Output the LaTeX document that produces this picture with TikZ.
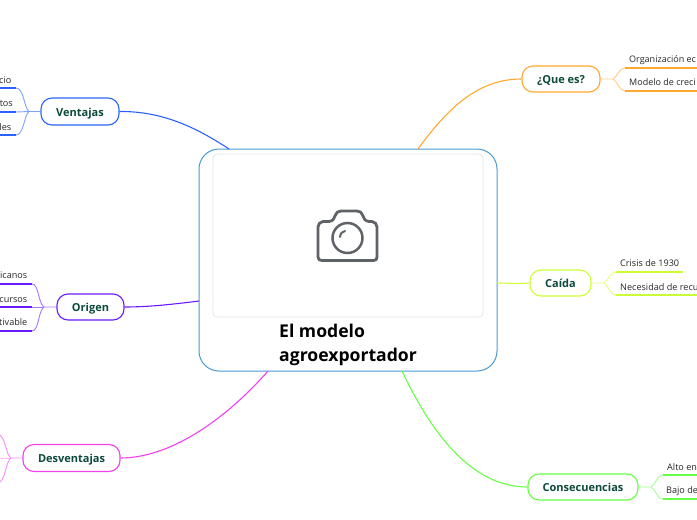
\documentclass[tikz,border=0pt]{standalone}
\usepackage{fontspec}
\setmainfont{Open Sans}
\definecolor{cvent}{HTML}{2962FF}
\definecolor{corig}{HTML}{6A1AFF}
\definecolor{cdesv}{HTML}{F040F0}
\definecolor{cque}{HTML}{FFA830}
\definecolor{ccai}{HTML}{CCFF33}
\definecolor{ccon}{HTML}{66FF44}
\definecolor{cmain}{HTML}{4A9BD4}
\definecolor{ctxt}{HTML}{0C4A3A}
\definecolor{ccam}{HTML}{5F6368}
\tikzset{
 x=1pt,y=-1pt,
 topic/.style={draw=#1,line width=1.1pt,rounded corners=11pt,fill=white,text=ctxt,font=\fontsize{11}{13}\selectfont\bfseries,inner sep=0pt,anchor=center,text height=11pt,text depth=2pt},
 link/.style={draw=#1,line width=1.1pt},
 branch/.style={draw=#1!60,line width=0.9pt},
 under/.style={draw=#1,line width=1.4pt},
 leaf/.style={font=\fontsize{9.1}{11}\selectfont,text=black!85,inner sep=0pt},
 titleline/.style={anchor=base west,inner sep=0pt,font=\fontsize{17.6}{24}\selectfont\bfseries,text=black},
}
\begin{document}
\begin{tikzpicture}
\useasboundingbox (0,0) rectangle (697,520);
\clip (0,0) rectangle (697,520);
\node[draw=cmain,line width=1pt,rounded corners=20pt,minimum width=298pt,minimum height=222pt,inner sep=0pt,fill=white] (main) at (348,260) {};
\node[draw=black!10,line width=0.8pt,rounded corners=4pt,minimum width=270pt,minimum height=163pt,inner sep=0pt] (pic) at (348,235.5) {};
\node[titleline] (t1) at (279,337) {El modelo};
\node[titleline] (t2) at (279,361) {agroexportador};
% camera
\draw[ccam,line width=2.8pt,line join=round]
 (323,221.5) -- (329,221.5) .. controls (333,221) and (334,219) .. (335,216) .. controls (337,212) and (338,211) .. (341,211) -- (357,211)
 .. controls (360,211) and (361,212) .. (363,216) .. controls (364,219) and (365,221) .. (369,221.5) -- (372,221.5)
 .. controls (375,222) and (377,224) .. (377,227) -- (377,257) .. controls (377,259.5) and (376,260.5) .. (373.5,260.5)
 -- (322,260.5) .. controls (319.5,260.5) and (318,259.5) .. (318,257) -- (318,227) .. controls (318,224) and (320,222) .. (323,221.5) -- cycle;
\draw[ccam,line width=2.5pt] (347.5,238) circle (15pt);
\draw[ccam,line width=2pt,line cap=round] (340,237) .. controls (340.5,233) and (342,232) .. (345,231);
% topics
\node[topic=cvent,minimum width=78pt,minimum height=27pt] (vent) at (80,111.5) {Ventajas};
\node[topic=corig,minimum width=67pt,minimum height=26pt] (orig) at (90.5,307) {Origen};
\node[topic=cdesv,minimum width=97pt,minimum height=27pt] (desv) at (71.5,458) {Desventajas};
\node[topic=cque,minimum width=78pt,minimum height=26pt] (que) at (561,79) {¿Que es?};
\node[topic=ccai,minimum width=61pt,minimum height=26pt] (cai) at (560.5,283) {Caída};
\node[topic=ccon,minimum width=110pt,minimum height=26pt] (con) at (583,487) {Consecuencias};
% attachment points on the central box
\coordinate (mv) at (229,149);
\coordinate (mo) at (199,301);
\coordinate (md) at (268,371);
\coordinate (mq) at (418,149);
\coordinate (mc) at (497,283);
\coordinate (mk) at (402,371);
\draw[link=cvent] (vent.east) .. controls (165,111) and (200,130) .. (mv);
\draw[link=corig] (orig.east) .. controls (150,307) and (175,304) .. (mo);
\draw[link=cdesv] (desv.east) .. controls (170,458) and (225,420) .. (md);
\draw[link=cque] (que.west) .. controls (480,79) and (450,105) .. (mq);
\draw[link=ccai] (cai.west) .. controls (518,284) and (510,283) .. (mc);
\draw[link=ccon] (con.west) .. controls (470,487) and (430,430) .. (mk);
% leaves: Ventajas
\coordinate (vj) at (29,111.5);
\coordinate (v1) at (16,88); \coordinate (v2) at (16,112); \coordinate (v3) at (16,135);
\coordinate (v1e) at (0,88); \coordinate (v2e) at (0,112); \coordinate (v3e) at (0,135);
\draw[branch=cvent] (vent.west) -- (vj) .. controls (24,108) and (24,88) .. (v1);
\draw[branch=cvent] (vj) -- (v2);
\draw[branch=cvent] (vj) .. controls (24,115) and (24,135) .. (v3);
\draw[under=cvent] (v1) -- (v1e); \draw[under=cvent] (v2) -- (v2e); \draw[under=cvent] (v3) -- (v3e);
\node[leaf,anchor=base east] (vl1) at (11.5,83) {cio};
\node[leaf,anchor=base east] (vl2) at (13,106.5) {tos};
\node[leaf,anchor=base east] (vl3) at (11.5,130.5) {les};
% leaves: Origen
\coordinate (oj) at (44,307);
\coordinate (o1) at (32,284); \coordinate (o2) at (32,307); \coordinate (o3) at (32,331);
\coordinate (o1e) at (0,284); \coordinate (o2e) at (0,307); \coordinate (o3e) at (0,331);
\draw[branch=corig] (orig.west) -- (oj) .. controls (38,303) and (39,284) .. (o1);
\draw[branch=corig] (oj) -- (o2);
\draw[branch=corig] (oj) .. controls (38,311) and (39,331) .. (o3);
\draw[under=corig] (o1) -- (o1e); \draw[under=corig] (o2) -- (o2e); \draw[under=corig] (o3) -- (o3e);
\node[leaf,anchor=base east] (ol1) at (27.5,278) {icanos};
\node[leaf,anchor=base east] (ol2) at (27.5,302) {cursos};
\node[leaf,anchor=base east] (ol3) at (27.5,325) {tivable};
% leaves: Desventajas
\coordinate (dj) at (11,458);
\coordinate (d1) at (0,435); \coordinate (d2) at (0,458); \coordinate (d3) at (0,482);
\draw[branch=cdesv] (desv.west) -- (dj) .. controls (6,455) and (6,440) .. (d1);
\draw[branch=cdesv,draw opacity=.6] (dj) -- (d2);
\draw[branch=cdesv] (dj) .. controls (6,461) and (6,477) .. (d3);
% leaves: Que es
\coordinate (qj) at (613,79);
\coordinate (q1) at (625,68); \coordinate (q2) at (625,91);
\coordinate (q1e) at (697,68); \coordinate (q2e) at (697,91);
\draw[branch=cque] (que.east) -- (qj) .. controls (618,76) and (619,68) .. (q1);
\draw[branch=cque] (qj) .. controls (618,82) and (619,91) .. (q2);
\draw[under=cque] (q1) -- (q1e); \draw[under=cque] (q2) -- (q2e);
\node[leaf,anchor=base west,font=\fontsize{9}{11}\selectfont] (ql1) at (629,62) {Organización ec};
\node[leaf,anchor=base west,font=\fontsize{9}{11}\selectfont] (ql2) at (629,85) {Modelo de creci};
% leaves: Caida
\coordinate (cj) at (604,283);
\coordinate (c1) at (616,272); \coordinate (c2) at (616,295);
\coordinate (c1e) at (683,272); \coordinate (c2e) at (697,295);
\draw[branch=ccai] (cai.east) -- (cj) .. controls (609,280) and (610,272) .. (c1);
\draw[branch=ccai] (cj) .. controls (609,286) and (610,295) .. (c2);
\draw[under=ccai] (c1) -- (c1e); \draw[under=ccai] (c2) -- (c2e);
\node[leaf,anchor=base west] (cl1) at (620,266) {Crisis de 1930};
\node[leaf,anchor=base west] (cl2) at (620,290) {Necesidad de recu};
% leaves: Consecuencias
\coordinate (kj) at (651,487);
\coordinate (k1) at (663,475); \coordinate (k2) at (663,499);
\coordinate (k1e) at (697,475); \coordinate (k2e) at (697,499);
\draw[branch=ccon] (con.east) -- (kj) .. controls (656,484) and (657,475) .. (k1);
\draw[branch=ccon] (kj) .. controls (656,490) and (657,499) .. (k2);
\draw[under=ccon] (k1) -- (k1e); \draw[under=ccon] (k2) -- (k2e);
\node[leaf,anchor=base west] (kl1) at (667,470) {Alto en};
\node[leaf,anchor=base west] (kl2) at (666,493) {Bajo de};
\end{tikzpicture}
\end{document}
